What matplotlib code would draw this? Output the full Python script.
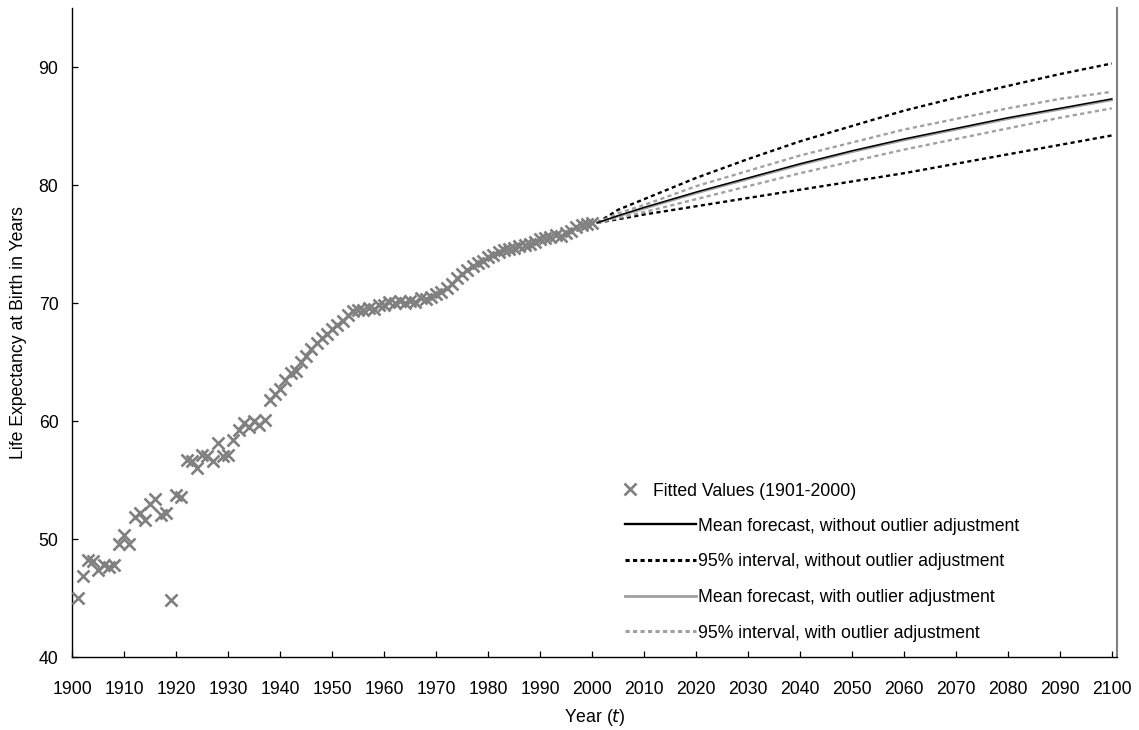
import matplotlib
matplotlib.use("Agg")
import matplotlib.pyplot as plt
from matplotlib.lines import Line2D

plt.rcParams["font.family"] = ["Liberation Sans", "DejaVu Sans"]
plt.rcParams["lines.scale_dashes"] = False

# fitted life expectancy, 1901-2000
fit_years = list(range(1901, 2001))
fitted = [
    45.0, 46.9, 48.2, 48.1, 47.4, 47.8, 47.6, 47.8, 49.6, 50.3,
    49.6, 51.9, 52.2, 51.6, 53.0, 53.4, 52.0, 52.2, 44.8, 53.7,
    53.6, 56.7, 56.6, 56.0, 57.1, 57.0, 56.6, 58.1, 57.0, 57.1,
    58.4, 59.2, 59.8, 59.5, 60.0, 59.7, 60.1, 61.8, 62.3, 62.7,
    63.5, 64.1, 64.2, 65.0, 65.5, 66.1, 66.6, 67.0, 67.4, 67.8,
    68.1, 68.5, 69.0, 69.3, 69.4, 69.4, 69.6, 69.5, 69.8, 69.8,
    70.1, 70.0, 70.2, 70.0, 70.2, 70.1, 70.4, 70.3, 70.5, 70.8,
    70.9, 71.3, 71.6, 72.1, 72.5, 72.8, 73.1, 73.4, 73.6, 73.9,
    74.1, 74.3, 74.5, 74.6, 74.7, 74.8, 74.9, 75.0, 75.2, 75.4,
    75.5, 75.6, 75.8, 75.7, 75.9, 76.1, 76.4, 76.6, 76.7, 76.8,
]

# forecasts to 2100
fc_years = [2001, 2005, 2010, 2020, 2030, 2040, 2050, 2060, 2070, 2080, 2090, 2100]
mean_raw = [76.8, 77.4, 78.1, 79.4, 80.6, 81.8, 82.9, 83.9, 84.8, 85.7, 86.5, 87.3]
upper_raw = [76.8, 77.9, 78.8, 80.6, 82.2, 83.7, 85.0, 86.3, 87.4, 88.4, 89.4, 90.3]
lower_raw = [76.8, 77.1, 77.5, 78.2, 78.9, 79.6, 80.3, 81.0, 81.8, 82.6, 83.4, 84.2]
mean_adj = [76.8, 77.35, 78.0, 79.3, 80.5, 81.7, 82.8, 83.8, 84.7, 85.6, 86.4, 87.2]
upper_adj = [76.8, 77.6, 78.3, 79.9, 81.2, 82.5, 83.6, 84.7, 85.6, 86.5, 87.3, 87.9]
lower_adj = [76.8, 77.2, 77.7, 78.8, 79.9, 81.0, 82.0, 83.0, 83.9, 84.8, 85.7, 86.5]

x_ticks = list(range(1900, 2101, 10))
y_ticks = [40, 50, 60, 70, 80, 90]

GREY_MARK = "#808080"
GREY_LINE = "#a0a0a0"
DASH = (0, (3.0, 2.4))

fig = plt.figure(figsize=(11.39, 7.30), dpi=100)
ax = fig.add_axes([0.0635, 0.100, 0.9172, 0.889])

ax.plot(fit_years, fitted, linestyle="none", marker="x", markersize=8,
        markeredgewidth=1.9, color=GREY_MARK, zorder=3)

ax.plot(fc_years, upper_raw, color="black", linewidth=1.7, linestyle=DASH)
ax.plot(fc_years, lower_raw, color="black", linewidth=1.7, linestyle=DASH)
ax.plot(fc_years, upper_adj, color=GREY_LINE, linewidth=1.7, linestyle=DASH)
ax.plot(fc_years, lower_adj, color=GREY_LINE, linewidth=1.7, linestyle=DASH)
ax.plot(fc_years, mean_adj, color=GREY_LINE, linewidth=1.6)
ax.plot(fc_years, mean_raw, color="black", linewidth=1.1)

ax.set_xlim(1900, 2101)
ax.set_ylim(40, 95)
ax.set_xticks(x_ticks)
ax.set_yticks(y_ticks)
ax.tick_params(direction="in", length=4.5, width=0.9, labelsize=12.7)
ax.tick_params(axis="x", pad=17)
ax.tick_params(axis="y", pad=10)

for side in ("left", "bottom"):
    ax.spines[side].set_linewidth(1.0)
ax.spines["top"].set_visible(False)
ax.spines["right"].set_color(GREY_MARK)
ax.spines["right"].set_linewidth(1.5)

ax.set_ylabel("Life Expectancy at Birth in Years", fontsize=12.7, labelpad=8)
ax.set_xlabel("Year ($\\it{t}$)", fontsize=12.7, labelpad=7)

# legend: marker entry on its own, line entries below
marker_handle = Line2D([], [], linestyle="none", marker="x", markersize=8,
                       markeredgewidth=1.9, color=GREY_MARK)
leg1 = fig.legend([marker_handle], ["Fitted Values (1901-2000)"],
                  loc="upper left", bbox_to_anchor=(0.545, 0.339),
                  frameon=False, fontsize=12.7, handlelength=1.0,
                  handletextpad=0.8, borderpad=0, borderaxespad=0)

line_handles = [
    Line2D([], [], color="black", linewidth=1.7),
    Line2D([], [], color="black", linewidth=2.2, linestyle=DASH),
    Line2D([], [], color=GREY_LINE, linewidth=2.0),
    Line2D([], [], color=GREY_LINE, linewidth=2.2, linestyle=DASH),
]
line_labels = [
    "Mean forecast, without outlier adjustment",
    "95% interval, without outlier adjustment",
    "Mean forecast, with outlier adjustment",
    "95% interval, with outlier adjustment",
]
leg2 = fig.legend(line_handles, line_labels, loc="upper left",
                  bbox_to_anchor=(0.549, 0.291), frameon=False,
                  fontsize=12.7, handlelength=4.0, handletextpad=0.1,
                  labelspacing=1.06, borderpad=0, borderaxespad=0)

fig.savefig("out.png", dpi=100)
